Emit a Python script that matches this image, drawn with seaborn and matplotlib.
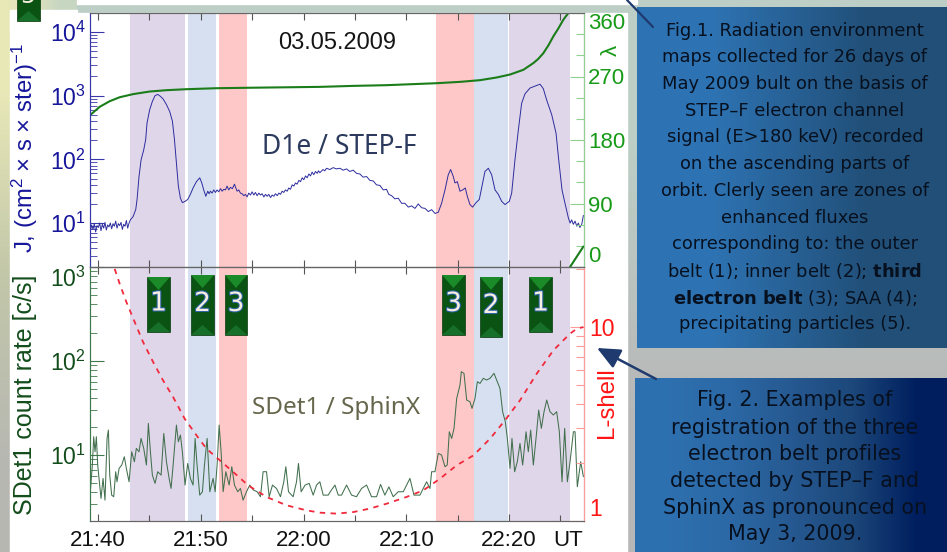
import numpy as np
import matplotlib
matplotlib.use('Agg')
import matplotlib.pyplot as plt
import matplotlib.patheffects as pe
from matplotlib.patches import Rectangle, Polygon
from matplotlib.ticker import FixedLocator, FixedFormatter, NullFormatter, LogLocator
import seaborn as sns

# times are minutes after 21:40 UT
d1e_t = [-.75, -.62, -.49, -.36, -.23, -.1, .03, .16, .29, .42, .55, .68, .81, .94, 1.07, 1.2, 1.33, 1.46, 1.59, 1.72,
         1.85, 1.98, 2.11, 2.24, 2.37, 2.5, 2.63, 2.76, 2.89, 3.02, 3.15, 3.41, 3.67, 3.80,
         3.99, 4.19, 4.45, 4.64, 4.77, 5.03, 5.29, 5.55, 5.81, 6.07, 6.33, 6.66, 6.98, 7.24, 7.44, 7.63, 7.82, 8.02,
         8.21, 8.47, 8.73, 8.99, 9.25, 9.58, 9.90, 10.1, 10.29, 10.49,
         10.68, 10.81, 10.94, 11.1, 11.27, 11.43, 11.59, 11.75, 11.92, 12.08, 12.24, 12.4, 12.56, 12.72, 12.89, 13.08,
         13.28, 13.41, 13.54, 13.7, 13.86, 14.02, 14.19, 14.35, 14.51, 14.67, 14.84, 15.0, 15.16, 15.32, 15.49, 15.65,
         15.81, 15.97, 16.14, 16.3, 16.46, 16.62, 16.79, 16.95, 17.11, 17.27, 17.44, 17.6, 17.76, 17.92, 18.08, 18.24,
         18.41, 18.57, 18.73, 18.9, 19.06, 19.22, 19.38, 19.55, 19.71, 19.87, 20.03, 20.2, 20.36, 20.52, 20.68, 20.84,
         21.0, 21.17, 21.33, 21.46, 21.59, 21.9, 22.07, 22.24, 22.56, 22.89, 23.2, 23.54, 23.86, 24.19, 24.5, 24.84,
         25.16, 25.49, 25.8, 26.14, 26.46, 26.79, 27.1, 27.44, 27.76, 28.08, 28.3, 28.57, 28.9, 29.22, 29.55, 29.87,
         30.2, 30.52, 30.85, 31.17, 31.5, 31.82, 32.15, 32.47, 32.8, 33.12,
         33.44, 33.77, 34.09, 34.32, 34.58, 34.74, 34.97, 35.23, 35.49, 35.75, 35.94, 36.2, 36.46,
         36.79, 37.11, 37.44, 37.66, 37.99, 38.31, 38.64, 38.96, 39.29, 39.61, 40.03, 40.26, 40.58, 40.91, 41.23,
         41.56, 42.05, 42.53, 43.02, 43.34, 43.67, 44.16, 44.58, 44.84, 45.16, 45.45, 45.78, 45.95, 46.1, 46.26, 46.43,
         46.6, 46.75, 46.9, 47.08, 47.24]
d1e_log = [.87, .97, .90, .99, .86, .96, .93, 1.0, .88, .98, .92, 1.01, .89, .97, .94, 1.0, .91, .99, .95, 1.03,
           .92, .99, .96, 1.01, .90, .98, .95, 1.04, .92, 1.0, 1.05, 1.10, 1.21, 1.37,
           1.73, 1.99, 2.15, 2.31, 2.57, 2.78, 2.91, 3.0, 3.02, 2.99, 2.95, 2.86, 2.75, 2.60, 2.31, 1.94, 1.58, 1.39,
           1.32, 1.34, 1.37, 1.45, 1.55, 1.65, 1.71, 1.63, 1.52, 1.42,
           1.50, 1.46, 1.50, 1.47, 1.52, 1.48, 1.52, 1.49, 1.54, 1.50, 1.53, 1.52, 1.58, 1.52, 1.56, 1.54,
           1.61, 1.55, 1.50, 1.52, 1.47, 1.46, 1.43, 1.45, 1.41, 1.47, 1.44, 1.49, 1.44, 1.48, 1.43, 1.47,
           1.44, 1.46, 1.41, 1.45, 1.42, 1.45, 1.40, 1.44, 1.42, 1.46, 1.43, 1.47, 1.45, 1.50, 1.48, 1.52,
           1.50, 1.55, 1.53, 1.60, 1.58, 1.63, 1.61, 1.67, 1.65, 1.71, 1.68, 1.74, 1.71, 1.77, 1.74, 1.80,
           1.76, 1.81, 1.78, 1.82, 1.79, 1.84, 1.82, 1.86, 1.84, 1.87, 1.85, 1.86, 1.83, 1.85, 1.81, 1.83,
           1.78, 1.77, 1.72, 1.73, 1.67, 1.66, 1.60, 1.59, 1.52, 1.53, 1.45, 1.43, 1.38, 1.39, 1.31, 1.31,
           1.25, 1.27, 1.23, 1.30, 1.24, 1.23, 1.18, 1.21, 1.15, 1.17,
           1.31, 1.52, 1.76, 1.84, 1.73, 1.63, 1.65, 1.50, 1.52, 1.55, 1.42, 1.29, 1.25,
           1.32, 1.37, 1.63, 1.81, 1.86, 1.76, 1.52, 1.45, 1.34, 1.29, 1.34, 1.47, 1.99, 2.46, 2.88,
           3.03, 3.12, 3.15, 3.18, 3.11, 2.93, 2.70, 2.41, 1.99, 1.52, 1.31, 1.08, 1.0, 1.05, .98, 1.03,
           .95, 1.0, .93, .98, 1.12]

lam_t = [-.75, .16, 1.14, 2.11, 3.41, 5.03, 6.66, 8.6, 11.53, 14.45, 21.59, 24.84, 28.08, 32.96, 35.23, 37.18, 38.8,
         40.1, 41.4, 42.37, 42.85, 43.34, 43.83, 44.32, 44.8, 45.29, 45.78]
lam_deg = [215.5, 227, 235, 240.6, 245, 248.7, 250.6, 252, 253.4, 254, 255.3, 256.7, 257.7, 260.5, 262.4, 264.8,
           268.6, 272.8, 279.5, 289, 295, 303, 314, 327, 338, 350.5, 360]
lam2_t = [45.94, 47.24]
lam2_deg = [0, 29]

sdet_t = [-.75, -.55, -.42, -.29, -.16, -.03, .10, .29, .49, .68, .88, 1.01, 1.14, 1.33, 1.53, 1.72, 1.85, 2.05, 2.31,
          2.56, 2.76, 3.02, 3.28, 3.54, 3.73, 3.99, 4.19, 4.45, 4.71, 4.90, 5.10, 5.29, 5.55, 5.81, 6.14, 6.40, 6.66,
          6.92, 7.11, 7.31, 7.63, 7.82, 8.02, 8.21, 8.47, 8.73, 8.99, 9.25, 9.45, 9.64, 9.90, 10.16, 10.36, 10.62,
          10.88, 11.2, 11.4, 11.59, 11.79, 11.98, 12.18, 12.44, 12.76, 13.02, 13.28, 13.6, 13.86, 14.12, 14.45,
          14.77, 15.1, 15.49, 15.81, 16.07, 16.4, 16.66, 16.98, 17.37, 17.76, 18.08, 18.28, 18.54, 18.99, 19.32,
          19.51, 19.77, 20.16, 20.55, 20.94, 21.27, 21.59, 21.92, 22.4, 22.73, 23.06, 23.38, 23.7, 24.19, 24.68,
          25.16, 25.65, 26.14, 26.62, 27.11, 27.5, 27.92, 28.31, 28.73, 29.22, 29.71, 30.36, 30.75, 31.33, 31.98,
          32.31, 32.47, 32.79, 33.12, 33.44, 33.77, 33.99, 34.19, 34.42, 34.65, 34.91, 35.23, 35.36, 35.62, 35.88,
          36.2, 36.4, 36.69, 36.92, 37.18, 37.5, 37.82, 38.15, 38.54, 38.86, 39.12, 39.38, 39.64, 39.84, 40.1,
          40.29, 40.55, 40.81, 41.07, 41.33, 41.66, 41.88, 42.11, 42.37, 42.63, 42.89, 43.15, 43.41, 43.67, 43.99,
          44.32, 44.64, 44.9, 45.16, 45.42, 45.68, 45.94, 46.27, 46.43, 46.65, 46.98, 47.24]
sdet_log = [.61, .894, 1.195, 1.035, 1.195, .894, .752, .539, .752, .521, 1.177, 1.266, .787, .574, .557, .823, .716,
            .858, .894, .982, .858, .716, 1.035, .929, 1.071, 1.035, 1.177, 1.071, .894, 1.337, 1.035, .787, .699,
            .823, .787, 1.23, .929, .752, .645, .894, 1.319, 1.142, 1.213, 1.035, .681, .911, .752, .681, 1.177,
            .894, .574, .61, .894, 1.177, .61, .752, .61, .894, 1.319, 1.035, .61, .823, .681, .876, .681, .61, .645,
            .521, .61, .681, .63, .61, .557, .823, .823, .557, .681, .645, .557, .716, .876, .61, .557, .716, .911,
            .61, .681, .699, .574, .681, .716, .574, .574, .63, .681, .574, .574, .681, .574, .557, .645, .681, .557,
            .557, .688, .574, .662, .557, .61, .61, .752, .574, .574, .716, .645, .823, .823, 1.018, 1.0, .876, .894,
            1.248, 1.177, 1.284, 1.603, 1.745, 1.887, 1.869, 1.585, 1.567, 1.496, 1.603, 1.78, 1.762, 1.816, 1.798,
            1.816, 1.869, 1.78, 1.709, 1.461, 1.355, 1.177, .858, 1.177, .823, .929, 1.124, .894, 1.248, 1.035, 1.266,
            .894, 1.177, 1.479, 1.284, 1.461, 1.585, 1.461, 1.426, 1.461, 1.248, .716, 1.284, .716, .929, 1.248,
            1.248, .663, .929, .77]

lshell_t = [1.62, 2.11, 2.76, 3.57, 4.38, 5.36, 6.33, 7.31, 8.44, 9.58, 10.55, 11.85, 13.15, 14.61, 16.4, 18.34, 20.29,
            21.59, 23.21, 24.84, 26.46, 28.08, 30.03, 31.66, 33.28, 34.9, 36.53, 38.15, 39.61, 41.07, 42.69, 44.32,
            45.94, 46.59, 47.24]
lshell_log = [1.30, 1.223, 1.129, 1.026, .923, .82, .725, .639, .527, .442, .373, .313, .253, .184, .124, .081, .055,
              .043, .038, .046, .064, .089, .124, .158, .218, .287, .338, .424, .519, .622, .759, .88, .966, .991, 1.0]

band_start = [3.07, 8.76, 11.73, 32.94, 36.55, 40.0]
band_end = [8.47, 11.48, 14.5, 36.55, 39.95, 45.94]
band_color = ['#e0d6ea', '#d6e0f0', '#ffc8c8', '#ffc8c8', '#d6e0f0', '#e0d6ea']

x_ticks = [0, 10, 20, 30, 40]
x_labels = ['21:40', '21:50', '22:00', '22:10', '22:20']

note1 = ['Fig.1. Radiation environment', 'maps collected for 26 days of', 'May 2009 bult on the basis of',
         'STEP\u2013F electron channel', 'signal (E>180 keV) recorded', 'on the ascending parts of',
         'orbit. Clerly seen are zones of', 'enhanced fluxes', 'corresponding to: the outer',
         r'belt (1); inner belt (2); $\mathbf{third}$', r'$\mathbf{electron\ belt}$ (3); SAA (4);',
         'precipitating particles (5).']
note2 = ['Fig. 2. Examples of', 'registration of the three', 'electron belt profiles',
         'detected by STEP\u2013F and', 'SphinX as pronounced on', 'May 3, 2009.']

sns.set_style('white')
plt.rcParams['font.family'] = ['Liberation Sans', 'DejaVu Sans']
plt.rcParams['mathtext.default'] = 'regular'

W, H = 947, 552
fig = plt.figure(figsize=(W / 100, H / 100), dpi=100, facecolor='white')


def add_axes_px(x0, y0, x1, y1, **kw):
    return fig.add_axes([x0 / W, 1 - y1 / H, (x1 - x0) / W, (y1 - y0) / H], **kw)


def full_overlay(z):
    a = fig.add_axes([0, 0, 1, 1], zorder=z)
    a.set_xlim(0, W)
    a.set_ylim(H, 0)
    a.axis('off')
    a.patch.set_alpha(0)
    return a


# backdrop and text boxes
bg = full_overlay(0)
def grad(cols, x0, x1, y0, y1):
    bg.imshow(np.array(cols), extent=(x0, x1, y1, y0), aspect='auto', interpolation='bilinear', zorder=1)

grad([[(.74, .81, .78), (.74, .81, .78)], [(.72, .72, .72), (.72, .72, .72)]], 10, 947, 0, 552)
grad([[(.91, .91, .72)], [(.76, .78, .66)], [(.72, .72, .70)]], 0, 10, 0, 552)
grad([[(.90, .90, .74), (.78, .84, .76)]], 10, 77, 0, 10)
bg.add_patch(Rectangle((10, 10), 67, 20, color='white', zorder=2))
bg.add_patch(Rectangle((10, 13), 617, 539, color='white', zorder=2))
bg.add_patch(Rectangle((77, 0), 560, 4, color='white', zorder=2))
grad([[(.18, .45, .70), (.13, .31, .47)]], 637, 947, 7, 348)
grad([[(.18, .44, .69), (.17, .41, .65), (.15, .35, .57), (.11, .28, .48), (0, .12, .37)]], 635, 947, 378, 552)
bg.set_xlim(0, W)
bg.set_ylim(H, 0)

ax1 = add_axes_px(90, 13, 584, 267, zorder=2)
ax2 = add_axes_px(90, 267, 584, 521, zorder=2)
ax1.patch.set_alpha(0)
ax2.patch.set_alpha(0)

for ax in (ax1, ax2):
    for a, b, c in zip(band_start, band_end, band_color):
        ax.axvspan(a, b, color=c, lw=0, zorder=0)
    ax.set_xlim(-.78, 47.3)
    ax.set_xticks(np.arange(0, 46, 5))
    ax.tick_params(axis='x', direction='in', length=5, width=.8, color='#555555', top=True, bottom=True)
    ax.set_yscale('log')

# upper panel
sns.lineplot(x=d1e_t, y=10 ** np.array(d1e_log), ax=ax1, estimator=None, sort=False, color='#2c2c9e', lw=.7)
ax1.set_ylim(2.04, 19860)
ax1.set_xticklabels([])
ax1.yaxis.set_major_locator(FixedLocator([10, 100, 1000, 10000]))
ax1.yaxis.set_major_formatter(FixedFormatter(['$10^1$', '$10^2$', '$10^3$', '$10^4$']))
ax1.yaxis.set_minor_locator(LogLocator(subs=np.arange(2, 10), numticks=12))
ax1.yaxis.set_minor_formatter(NullFormatter())
ax1.tick_params(axis='y', which='major', direction='in', length=10, width=.8, color='#3838a8',
                labelcolor='#16169a', labelsize=16.5, left=True, pad=3)
ax1.tick_params(axis='y', which='minor', direction='in', length=5, width=.6, color='#3838a8', left=True)

lam = ax1.twinx()
lam.set_zorder(3)
sns.lineplot(x=lam_t, y=lam_deg, ax=lam, estimator=None, sort=False, color='#1a7d1a', lw=1.5)
sns.lineplot(x=lam2_t, y=lam2_deg, ax=lam, estimator=None, sort=False, color='#1a7d1a', lw=1.5)
lam.set_ylim(0, 360)
lam.set_yticks([0, 90, 180, 270, 360])
lam.set_yticks(np.arange(0, 361, 30), minor=True)
lam.tick_params(axis='y', which='major', direction='in', length=10, width=.8, color='#90d090',
                labelcolor='#179a17', labelsize=16, right=True, pad=3)
lam.tick_params(axis='y', which='minor', direction='in', length=6, width=.8, color='#90d090', right=True)
lam.get_yticklabels()[0].set_va('bottom')
lam.get_yticklabels()[-1].set_va('top')

# lower panel
sns.lineplot(x=sdet_t, y=10 ** np.array(sdet_log), ax=ax2, estimator=None, sort=False, color='#42704e', lw=.75)
ax2.set_ylim(1.99, 1000)
ax2.set_xticks(x_ticks)
ax2.set_xticks(np.arange(5, 46, 10), minor=True)
ax2.set_xticklabels(x_labels, fontsize=16, color='#111111')
ax2.tick_params(axis='x', which='major', direction='in', length=5, width=.8, color='#555555', pad=6.5, top=True, bottom=True)
ax2.tick_params(axis='x', which='minor', direction='in', length=4, width=.8, color='#555555', top=True, bottom=True)
ax2.yaxis.set_major_locator(FixedLocator([10, 100, 1000]))
ax2.yaxis.set_major_formatter(FixedFormatter(['$10^1$', '$10^2$', '$10^3$']))
ax2.yaxis.set_minor_locator(LogLocator(subs=np.arange(2, 10), numticks=12))
ax2.yaxis.set_minor_formatter(NullFormatter())
ax2.tick_params(axis='y', which='major', direction='in', length=10, width=.8, color='#3f7a4a',
                labelcolor='#134d1b', labelsize=16.5, left=True, pad=3)
ax2.tick_params(axis='y', which='minor', direction='in', length=5, width=.6, color='#3f7a4a', left=True)
ax2.get_yticklabels()[-1].set_va('top')

lsh = ax2.twinx()
lsh.set_zorder(3)
sns.lineplot(x=lshell_t, y=10 ** np.array(lshell_log), ax=lsh, estimator=None, sort=False, color='#f02a3c', lw=1.3,
             linestyle=(0, (3, 3)))
lsh.set_yscale('log')
lsh.set_ylim(1, 20.4)
lsh.yaxis.set_major_locator(FixedLocator([1, 10]))
lsh.yaxis.set_major_formatter(FixedFormatter(['1', '10']))
lsh.yaxis.set_minor_locator(FixedLocator([2, 3, 4, 5, 6, 7, 8, 9, 20]))
lsh.yaxis.set_minor_formatter(NullFormatter())
lsh.tick_params(axis='y', which='major', direction='in', length=10, width=.8, color='#ff9a9a',
                labelcolor='#ff1414', labelsize=16.5, right=True, pad=4)
lsh.tick_params(axis='y', which='minor', direction='in', length=6, width=.8, color='#ff9a9a', right=True)
lsh.get_yticklabels()[0].set_va('bottom')

for ax, col_l, col_r in ((lam, '#3838a8', '#90d090'), (lsh, '#3f7a4a', '#ff9a9a')):
    ax.patch.set_alpha(0)
    ax.spines['left'].set_color(col_l)
    ax.spines['right'].set_color(col_r)
    ax.spines['top'].set_color('#666666')
    ax.spines['bottom'].set_color('#666666')
    ax.set_ylabel('')
for ax in (ax1, ax2):
    for s in ax.spines.values():
        s.set_color('#666666')
ax1.spines['left'].set_color('#3838a8')
ax2.spines['left'].set_color('#3f7a4a')

# labels and badges on top
top = full_overlay(5)
top.text(25, 148, r'J, (cm$^2$ $\times$ s $\times$ ster)$^{-1}$', rotation=90, ha='center', va='center',
         color='#16169a', fontsize=17.2)
top.text(25, 395, 'SDet1 count rate [c/s]', rotation=90, ha='center', va='center', color='#134d1b', fontsize=18)
top.text(607, 403, 'L-shell', rotation=90, ha='center', va='center', color='#ff1414', fontsize=17.3)
top.text(611, 50, '\u03bb', rotation=90, ha='center', va='center', color='#179a17', fontsize=16,
         family=['Liberation Sans', 'DejaVu Sans'])
top.text(337, 43, '03.05.2009', ha='center', va='center', color='#151515', fontsize=17)
top.text(339, 147, 'D1e / STEP-F', ha='center', va='center', color='#2c3a5e', fontsize=19, family='Noto Sans')
top.text(336, 408, 'SDet1 / SphinX', ha='center', va='center', color='#66664c', fontsize=17.5, family='Noto Sans')
top.text(568, 540, 'UT', ha='center', va='center', color='#111111', fontsize=16)

badge_x0 = [147, 191, 225, 442, 480, 529]
badge_x1 = [170, 214, 247, 465, 502, 552]
badge_y0 = [277, 275, 275, 275, 277, 277]
badge_y1 = [332, 335, 335, 335, 337, 332]
badge_txt = ['1', '2', '3', '3', '2', '1']


def badge(x0, x1, y0, y1, txt):
    m = (x0 + x1) / 2
    top.add_patch(Rectangle((x0, y0), x1 - x0, y1 - y0, fc='#0a5312', ec='#063a0c', lw=.5))
    top.add_patch(Polygon([(x0, y0), (x1, y0), (m, y0 + 13)], fc='#1b8a28', lw=0, clip_on=True))
    top.add_patch(Polygon([(x0, y1), (x1, y1), (m, y1 - 10)], fc='#17702a', lw=0, clip_on=True))
    t = top.text(m, (y0 + y1) / 2 - 1, txt, ha='center', va='center', color='#f6eee0', fontsize=19,
                 family='DejaVu Sans')
    t.set_path_effects([pe.withStroke(linewidth=1.5, foreground='#2f64a8')])


for b in zip(badge_x0, badge_x1, badge_y0, badge_y1, badge_txt):
    badge(*b)
badge(17, 40, -30, 21, '')
top.text(28, -4, '5', ha='center', va='center', color='#f6eee0', fontsize=17, family='DejaVu Sans', clip_on=True)

# arrows from the notes
top.plot([627, 653], [0, 27], color='#1f3a6e', lw=1.6)
top.annotate('', xy=(597, 348), xytext=(656, 379),
             arrowprops=dict(arrowstyle='-|>,head_width=0.45,head_length=1.0', mutation_scale=14, color='#1f3a6e',
                             lw=1.8, shrinkA=0, shrinkB=0))

note1_y = [31, 57.4, 83.8, 110.6, 137.3, 163.7, 190.8, 217.6, 244, 270.8, 297.5, 324.3]
note2_y = [400, 428, 454, 481, 508, 534]
for line, y in zip(note1, note1_y):
    top.text(795, y, line, ha='center', va='center', color='#07101e', fontsize=12.9, family='DejaVu Sans',
             math_fontfamily='dejavusans')
for line, y in zip(note2, note2_y):
    top.text(795, y, line, ha='center', va='center', color='#07101e', fontsize=14.9, family='DejaVu Sans')

fig.savefig('out.png', dpi=100, facecolor='white')
